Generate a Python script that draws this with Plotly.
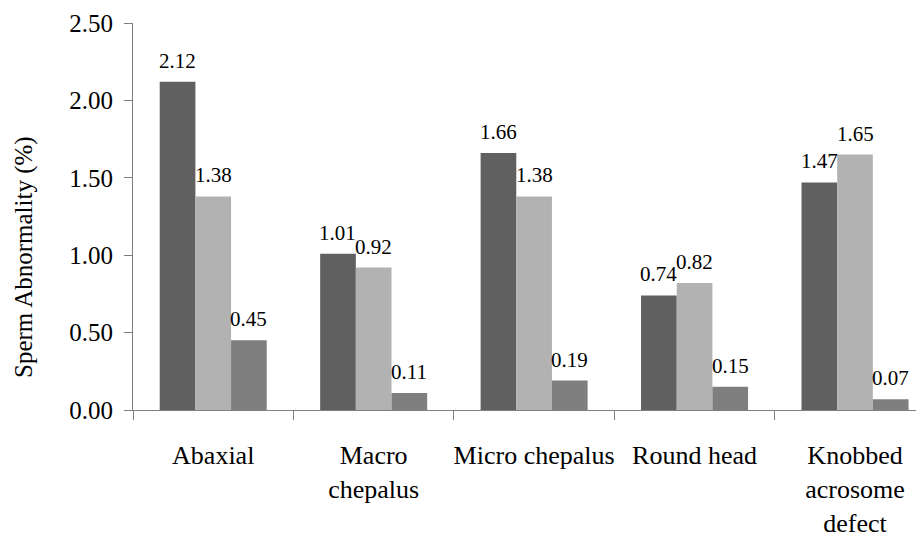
import plotly.graph_objects as go

categories = ["Abaxial", "Macro<br>chepalus", "Micro chepalus", "Round head", "Knobbed<br>acrosome<br>defect"]
series_names = ["Group 1", "Group 2", "Group 3"]
group1 = [2.12, 1.01, 1.66, 0.74, 1.47]
group2 = [1.38, 0.92, 1.38, 0.82, 1.65]
group3 = [0.45, 0.11, 0.19, 0.15, 0.07]
colors = ["#606060", "#b2b2b2", "#7f7f7f"]
y_ticks = [0.0, 0.5, 1.0, 1.5, 2.0, 2.5]

FONT = "Liberation Serif"
BAR_PX = 160.5 * (1 - 0.333) / 3

fig = go.Figure()
all_series = [group1, group2, group3]
for name, vals, col in zip(series_names, all_series, colors):
    fig.add_trace(go.Bar(
        x=categories, y=vals, name=name,
        marker=dict(color=col, line=dict(width=0)),
    ))

for i, vals in enumerate(all_series):
    for cat, v in zip(categories, vals):
        fig.add_annotation(
            x=cat, y=v, xref="x", yref="y", text=f"{v:.2f}",
            showarrow=False, xanchor="center", yanchor="bottom",
            xshift=(i - 1) * BAR_PX, yshift=7,
            font=dict(family=FONT, size=21, color="#000000"),
        )

fig.update_layout(
    width=916, height=529,
    margin=dict(l=125, r=0, t=15, b=127),
    paper_bgcolor="white", plot_bgcolor="white",
    barmode="group", bargap=0.333, bargroupgap=0,
    showlegend=False,
    font=dict(family=FONT, size=25, color="#000000"),
)
fig.update_xaxes(
    range=[-0.5, 4.43], automargin=False, tickangle=0,
    showline=True, linecolor="#808080", linewidth=1,
    ticks="outside", tickson="boundaries", ticklen=9, tickcolor="#808080",
    tickfont=dict(family=FONT, size=26),
    showgrid=False, zeroline=False,
    ticklabelstandoff=22,
)
fig.update_yaxes(
    range=[0, 2.5], automargin=False,
    tickvals=y_ticks, tickformat=".2f",
    showline=True, linecolor="#808080", linewidth=1,
    ticks="outside", ticklen=8, tickcolor="#808080",
    tickfont=dict(family=FONT, size=25),
    showgrid=False, zeroline=False,
    ticklabelstandoff=6,
)
fig.add_annotation(
    text="Sperm Abnormality (%)", textangle=-90,
    xref="paper", yref="paper", x=-(133 - 24) / 791, y=(410 - 257) / 387,
    xanchor="center", yanchor="middle", showarrow=False,
    font=dict(family=FONT, size=25, color="#000000"),
)

fig.write_html("out.html")
